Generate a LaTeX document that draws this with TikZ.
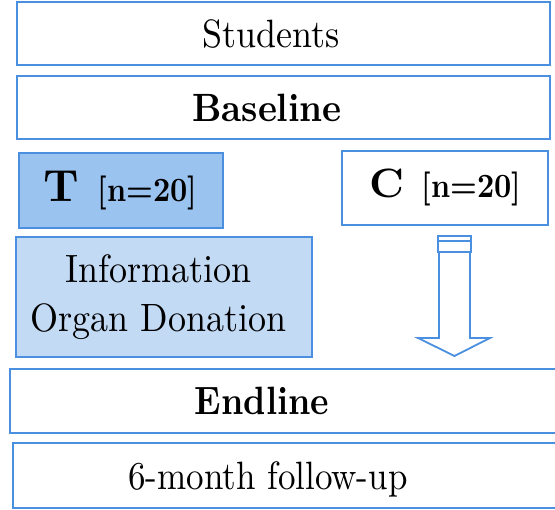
\documentclass[tikz,border=0pt]{standalone}
\usepackage{graphicx}
\definecolor{bordblue}{HTML}{4A8FE0}
\definecolor{tfill}{HTML}{9BC3F0}
\definecolor{infofill}{HTML}{C3DAF5}
\newcommand\txtA[1]{\scalebox{3.6}[3.95]{#1}}
\newcommand\txtB[1]{\scalebox{3.5}[3.95]{#1}}
\begin{document}
\begin{tikzpicture}[x=1pt,y=-1pt,
  boxnode/.style={draw=bordblue, line width=2pt, rectangle, inner sep=0pt, fill=white,
     font=\fontsize{10}{12.3}\selectfont},
  arrowline/.style={draw=bordblue, line width=1.8pt, line join=miter}
]
\useasboundingbox (0,0) rectangle (555,510);
\clip (0,0) rectangle (555,510);

\node[boxnode, minimum width=533pt, minimum height=63pt] (students) at (283,34)
  {\txtA{Students}\hspace*{24pt}};
\node[boxnode, minimum width=533pt, minimum height=63pt] (baseline) at (283,107.5)
  {\txtA{\bfseries Baseline}\hspace*{32pt}};
\node[boxnode, fill=tfill, minimum width=204pt, minimum height=75pt] (tgroup) at (120.5,190.7)
  {\scalebox{4.45}[4.5]{\bfseries T}\hspace{18pt}\scalebox{3.0}[3.4]{\bfseries [n=20]}};
\node[boxnode, minimum width=206pt, minimum height=74pt] (cgroup) at (445.3,187.9)
  {\scalebox{4.2}[4.1]{\bfseries C}\hspace{18pt}\scalebox{3.0}[3.4]{\bfseries [n=20]}};
\node[boxnode, fill=infofill, minimum width=296.6pt, minimum height=120pt] (info) at (164,297.5)
  {\txtA{\begin{tabular}{@{}c@{}}Information\\Organ Donation\end{tabular}}\hspace*{11pt}};
\node[boxnode, minimum width=550pt, minimum height=64pt] (endline) at (285,401)
  {\txtB{\bfseries Endline}\hspace*{46pt}};
\node[boxnode, minimum width=547pt, minimum height=65pt] (followup) at (286.5,475.5)
  {\raisebox{0pt}[\height][0pt]{\txtB{6-month follow-up}}\hspace*{37pt}};

% block arrow from C group down to endline
\draw[arrowline] (438,236) rectangle (471,241);
\draw[arrowline] (438,241) rectangle (471,252);
\draw[arrowline] (439,252) -- (439,338) -- (418,338) -- (454.5,356) -- (490,338) -- (470,338) -- (470,252);
\end{tikzpicture}
\end{document}
